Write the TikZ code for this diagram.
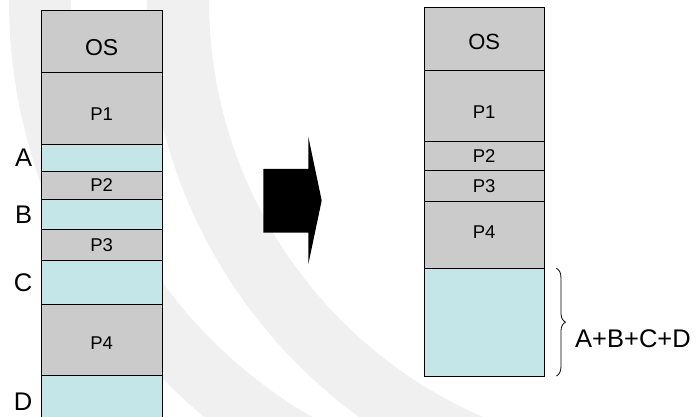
\documentclass[tikz,border=0pt]{standalone}
\usepackage{fontspec}
\setmainfont{Liberation Sans}
\usetikzlibrary{positioning,decorations.pathreplacing}
\definecolor{memgray}{HTML}{CBCBCB}
\definecolor{holecyan}{HTML}{C4E6E8}
\definecolor{bandgray}{HTML}{F0F0F0}
\newcommand{\lowered}[2]{\raisebox{-#1}[\height][\depth]{#2}}

\begin{document}
\begin{tikzpicture}[x=1pt, y=-1pt,
    seg/.style={draw, line width=0.8pt, fill=memgray, minimum width=120.5pt, inner sep=0pt, outer sep=0pt, font=\fontsize{18.5}{20}\selectfont},
    hole/.style={seg, fill=holecyan},
    oslabel/.style={font=\fontsize{23}{25}\selectfont},
    gap/.style={inner sep=0pt, font=\fontsize{25.5}{27}\selectfont},
    band/.style={draw=bandgray, line width=62pt}
  ]
    \useasboundingbox (0,0) rectangle (699,417);
    \clip (0,0) rectangle (699,417);
    \draw[band] (552,0) circle[radius=512];
    \draw[band] (663,0) circle[radius=485];

    % memory before compaction
    \node[seg, oslabel, minimum height=62.7pt, anchor=north] (osL) at (101.7,10) {\lowered{6pt}{OS}};
    \node[seg, minimum height=71.3pt, below=0pt of osL] (p1L) {\lowered{6pt}{P1}};
    \node[hole, minimum height=27.7pt, below=0pt of p1L] (aL) {};
    \node[seg, minimum height=27.6pt, below=0pt of aL] (p2L) {P2};
    \node[hole, minimum height=30pt, below=0pt of p2L] (bL) {};
    \node[seg, minimum height=30.7pt, below=0pt of bL] (p3L) {P3};
    \node[hole, minimum height=44.7pt, below=0pt of p3L] (cL) {};
    \node[seg, minimum height=70.3pt, below=0pt of cL] (p4L) {\lowered{3pt}{P4}};
    \node[hole, minimum height=50pt, below=0pt of p4L] (dL) {};

    \node[gap, left=9pt of aL] (labA) {A};
    \node[gap, left=9pt of bL] (labB) {B};
    \node[gap, left=9pt of cL] (labC) {C};
    \node[gap, left=9pt of dL, yshift=-2pt] (labD) {D};

    \fill (263.3,169) -- (308.3,169) -- (308.3,136.7) -- (321.7,200.5)
      -- (308.3,264.3) -- (308.3,232.7) -- (263.3,232.7) -- cycle;

    % memory after compaction
    \node[seg, minimum height=63pt, anchor=north, font=\fontsize{22}{24}\selectfont] (osR) at (484.2,7.3) {\lowered{3pt}{OS}};
    \node[seg, minimum height=71pt, below=0pt of osR] (p1R) {\lowered{6pt}{P1}};
    \node[seg, minimum height=29.4pt, below=0pt of p1R] (p2R) {P2};
    \node[seg, minimum height=30.3pt, below=0pt of p2R] (p3R) {P3};
    \node[seg, minimum height=67.3pt, below=0pt of p3R] (p4R) {\lowered{-2.5pt}{P4}};
    \node[hole, minimum height=107.7pt, below=0pt of p4R] (freeR) {};

    \draw[line width=0.8pt, decorate, decoration={brace, amplitude=9pt}]
      ([xshift=12pt]freeR.north east) -- ([xshift=12pt]freeR.south east);
    \node[gap, anchor=west] (sum) at (575,339) {A+B+C+D};
  \end{tikzpicture}
\end{document}
